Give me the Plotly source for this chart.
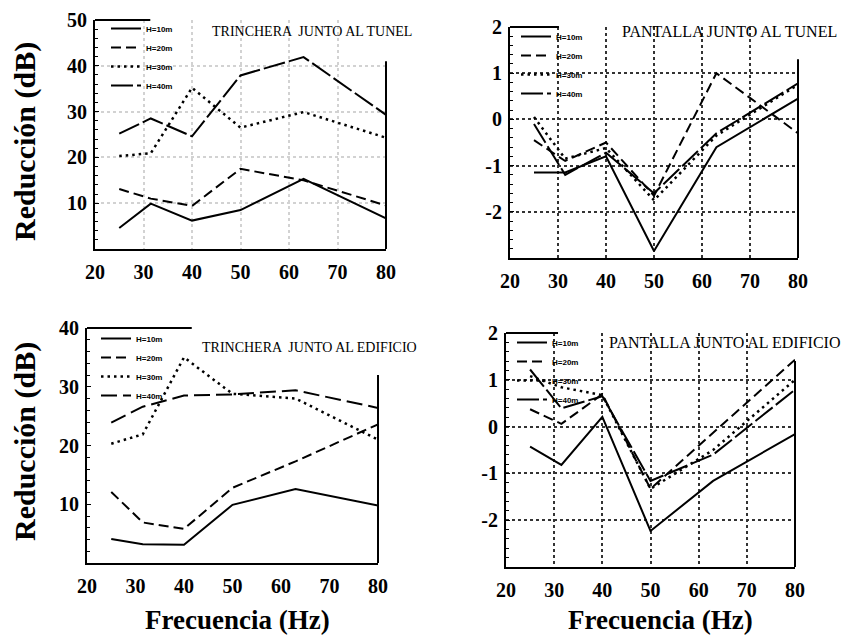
import plotly.graph_objects as go

# ---------------- data ----------------
freqs = [25, 31.5, 40, 50, 63, 80]
series_names = ["H=10m", "H=20m", "H=30m", "H=40m"]

# Trinchera junto al túnel
tt_h10 = [4.6, 9.9, 6.2, 8.5, 15.3, 6.7]
tt_h20 = [13.1, 11.0, 9.4, 17.5, 15.0, 9.5]
tt_h30 = [20.3, 20.9, 35.2, 26.5, 29.9, 24.3]
tt_h40 = [25.2, 28.5, 24.6, 37.9, 41.9, 29.3]

# Pantalla junto al túnel
pt_h10 = [-1.15, -1.15, -0.8, -2.85, -0.6, 0.45]
pt_h20 = [-0.45, -0.9, -0.5, -1.65, 1.0, -0.3]
pt_h30 = [0.05, -0.85, -0.62, -1.75, -0.35, 0.75]
pt_h40 = [-0.1, -1.2, -0.72, -1.6, -0.3, 0.78]

# Trinchera junto al edificio
te_h10 = [4.1, 3.2, 3.1, 9.9, 12.6, 9.8]
te_h20 = [12.1, 6.9, 5.8, 12.8, 17.3, 23.6]
te_h30 = [20.3, 21.9, 35.0, 28.8, 28.0, 21.0]
te_h40 = [23.9, 26.6, 28.5, 28.7, 29.4, 26.4]

# Pantalla junto al edificio
pe_h10 = [-0.43, -0.82, 0.21, -2.23, -1.16, -0.16]
pe_h20 = [0.37, 0.06, 0.69, -1.33, -0.13, 1.43]
pe_h30 = [1.08, 0.84, 0.67, -1.33, -0.5, 1.0]
pe_h40 = [1.22, 0.39, 0.65, -1.16, -0.6, 0.79]

x_tickvals = [20, 30, 40, 50, 60, 70, 80]
x_ticktext = ["20", "30", "40", "50", "60", "70", "80"]
y_tt_vals = [10, 20, 30, 40, 50]
y_te_vals = [10, 20, 30, 40]
y_p_vals = [-2, -1, 0, 1, 2]
y_p_text = ["-2", "-1", "0", "1", "2"]

titles = ["TRINCHERA  JUNTO AL TUNEL", "PANTALLA JUNTO AL TUNEL",
          "TRINCHERA  JUNTO AL EDIFICIO", "PANTALLA JUNTO AL EDIFICIO"]
ytitle = "Reducción (dB)"
xtitle = "Frecuencia (Hz)"

# ---------------- styling ----------------
dashes = ["solid", "10px,5px", "2.5px,4px", "22px,4px"]
widths = [2, 2, 2.5, 2]
SERIF = "Liberation Serif, Times New Roman, serif"

fig = go.Figure()

panels = [
    (1, [tt_h10, tt_h20, tt_h30, tt_h40], "legend"),
    (2, [pt_h10, pt_h20, pt_h30, pt_h40], "legend2"),
    (3, [te_h10, te_h20, te_h30, te_h40], "legend3"),
    (4, [pe_h10, pe_h20, pe_h30, pe_h40], "legend4"),
]
for idx, data, leg in panels:
    sfx = "" if idx == 1 else str(idx)
    for k, (name, vals) in enumerate(zip(series_names, data)):
        dash = dashes[k]
        if idx == 3 and k == 3:
            dash = "16px,6px"
        fig.add_trace(go.Scatter(
            x=freqs, y=vals, mode="lines", name=name,
            line=dict(color="black", width=widths[k], dash=dash),
            xaxis="x" + sfx, yaxis="y" + sfx, legend=leg,
            hoverinfo="x+y+name",
        ))

W, H = 850, 638
OFF = 8  # page body margin of the viewer

def fx(p):
    return (p - OFF) / W
def fy(p):
    return 1 - (p - OFF) / H
def px_x(a, b):
    return [fx(a), fx(b)]
def px_y(top, bottom):
    return [fy(bottom), fy(top)]

tickfont = dict(family=SERIF, size=20, color="black", weight="bold")

def xaxis(dom, anchor, gridcol, showgrid):
    return dict(domain=dom, anchor=anchor, range=[20, 80], automargin=False,
                tickvals=x_tickvals, ticktext=x_ticktext, ticklabeloverflow="allow",
                showline=True, linecolor="black", linewidth=2,
                ticks="", ticklabelstandoff=4,
                showgrid=showgrid, gridcolor=gridcol, griddash="dot", gridwidth=1.5,
                zeroline=False, tickfont=tickfont, fixedrange=True)

def yaxis(dom, anchor, rng, vals, text, gridcol, showgrid, minor_dt):
    return dict(domain=dom, anchor=anchor, range=rng, automargin=False,
                tickvals=vals, ticktext=text, ticklabeloverflow="allow",
                showline=True, linecolor="black", linewidth=2,
                ticks="inside", ticklen=4, tickcolor="black",
                minor=dict(dtick=minor_dt, ticks="inside", ticklen=3, tickcolor="black", showgrid=False),
                ticklabelstandoff=2,
                showgrid=showgrid, gridcolor=gridcol, griddash="dot", gridwidth=1.5,
                zeroline=False, tickfont=tickfont, fixedrange=True)

light = "#d2d2d2"
dark = "#333333"

fig.update_layout(
    width=W, height=H, margin=dict(l=0, r=0, t=0, b=0, autoexpand=False),
    paper_bgcolor="white", plot_bgcolor="white",
    font=dict(family=SERIF, color="black"),
    xaxis=xaxis(px_x(95, 386), "y", light, True),
    yaxis=yaxis(px_y(20, 249), "x", [0, 50], y_tt_vals, [str(v) for v in y_tt_vals], light, True, 2),
    xaxis2=xaxis(px_x(510, 798), "y2", dark, True),
    yaxis2=yaxis(px_y(27, 258), "x2", [-3, 2], y_p_vals, y_p_text, dark, True, 0.2),
    xaxis3=xaxis(px_x(87, 378), "y3", light, False),
    yaxis3=yaxis(px_y(328, 563), "x3", [0, 40], y_te_vals, [str(v) for v in y_te_vals], light, False, 2),
    xaxis4=xaxis(px_x(506, 795), "y4", dark, True),
    yaxis4=yaxis(px_y(333, 567), "x4", [-3, 2], y_p_vals, y_p_text, dark, True, 0.2),
    showlegend=True,
)

legfont = dict(family="Liberation Sans, Arial, sans-serif", size=8, color="black", weight="bold")
leg_common = dict(bgcolor="rgba(255,255,255,0)", borderwidth=0, font=legfont,
                  itemwidth=30, xanchor="left", yanchor="top", tracegroupgap=0)
fig.update_layout(
    legend=dict(x=fx(106), y=fy(14), **leg_common),
    legend2=dict(x=fx(516), y=fy(22), **leg_common),
    legend3=dict(x=fx(96), y=fy(324), **leg_common),
    legend4=dict(x=fx(512), y=fy(328), **leg_common),
)

annotations = []
title_specs = [(210, 32, 14), (620, 32, 16), (200, 347, 14), (607, 342, 16)]
for t, (xp, yp, fs) in zip(titles, title_specs):
    annotations.append(dict(text=t, x=fx(xp), y=fy(yp), xref="paper", yref="paper",
                            xanchor="left", yanchor="middle", showarrow=False,
                            font=dict(family=SERIF, size=fs, color="black")))
for yc in (142, 442):
    annotations.append(dict(text=ytitle, x=fx(25), y=fy(yc), xref="paper", yref="paper",
                            xanchor="center", yanchor="middle", textangle=-90, showarrow=False,
                            font=dict(family=SERIF, size=30, color="black", weight="bold")))
for xc in (238, 660):
    annotations.append(dict(text=xtitle, x=fx(xc), y=fy(620), xref="paper", yref="paper",
                            xanchor="center", yanchor="middle", showarrow=False,
                            font=dict(family=SERIF, size=27, color="black", weight="bold")))
fig.update_layout(annotations=annotations)

# partial frame lines (right edge and top of legend area)
shapes = []
frames = [("x", "y", 0.82, 0.19), ("x2", "y2", 0.86, 0.17), ("x3", "y3", 0.80, 0.36), ("x4", "y4", 0.88, 0.18)]
for xr, yr, rtop, topw in frames:
    shapes.append(dict(type="line", xref=xr + " domain", yref=yr + " domain",
                       x0=1, x1=1, y0=0, y1=rtop, line=dict(color="black", width=2)))
    if topw > 0:
        shapes.append(dict(type="line", xref=xr + " domain", yref=yr + " domain",
                           x0=0, x1=topw, y0=1, y1=1, line=dict(color="black", width=2)))
fig.update_layout(shapes=shapes)

fig.write_html("out.html")
